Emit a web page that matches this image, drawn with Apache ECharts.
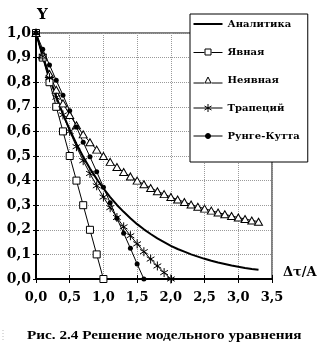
<!DOCTYPE html>
<html><head><meta charset="utf-8">
<script src="https://cdn.jsdelivr.net/npm/echarts@6/dist/echarts.min.js"></script>
<style>html,body{margin:0;padding:0;background:#fff}#c{width:329px;height:358px}</style>
</head><body><div id="c"></div>
<script>
// ---- data ----
const analyticX = [0,0.1,0.2,0.3,0.4,0.5,0.6,0.7,0.8,0.9,1.0,1.1,1.2,1.3,1.4,1.5,1.6,1.7,1.8,1.9,2.0,2.1,2.2,2.3,2.4,2.5,2.6,2.7,2.8,2.9,3.0,3.1,3.2,3.3];
const analyticY = [1.000,0.905,0.819,0.741,0.670,0.607,0.549,0.497,0.449,0.407,0.368,0.333,0.301,0.273,0.247,0.223,0.202,0.183,0.165,0.150,0.135,0.122,0.111,0.100,0.091,0.082,0.074,0.067,0.061,0.055,0.050,0.045,0.041,0.038];
const explicitX = [0,0.1,0.2,0.3,0.4,0.5,0.6,0.7,0.8,0.9,1.0];
const explicitY = [1.0,0.9,0.8,0.7,0.6,0.5,0.4,0.3,0.2,0.1,0.0];
const implicitX = [0,0.1,0.2,0.3,0.4,0.5,0.6,0.7,0.8,0.9,1.0,1.1,1.2,1.3,1.4,1.5,1.6,1.7,1.8,1.9,2.0,2.1,2.2,2.3,2.4,2.5,2.6,2.7,2.8,2.9,3.0,3.1,3.2,3.3];
const implicitY = [1.000,0.909,0.833,0.769,0.714,0.667,0.625,0.588,0.556,0.526,0.500,0.476,0.455,0.435,0.417,0.400,0.385,0.370,0.357,0.345,0.333,0.323,0.313,0.303,0.294,0.286,0.278,0.270,0.263,0.256,0.250,0.244,0.238,0.233];
const trapX = [0,0.1,0.2,0.3,0.4,0.5,0.6,0.7,0.8,0.9,1.0,1.1,1.2,1.3,1.4,1.5,1.6,1.7,1.8,1.9,2.0];
const trapY = [1.000,0.905,0.818,0.739,0.667,0.600,0.538,0.481,0.429,0.379,0.333,0.290,0.250,0.212,0.176,0.143,0.111,0.081,0.053,0.026,0.000];
const rkX = [0,0.1,0.2,0.3,0.4,0.5,0.6,0.7,0.8,0.9,1.0,1.1,1.2,1.3,1.4,1.5,1.6];
const rkY = [1.000,0.934,0.870,0.808,0.747,0.684,0.618,0.556,0.497,0.436,0.373,0.310,0.247,0.186,0.125,0.061,0.000];
const seriesNames = ['Аналитика','Явная','Неявная','Трапеций','Рунге-Кутта'];
const xTicks = {min:0, max:3.5, step:0.5};
const yTicks = {min:0, max:1.0, step:0.1};
const captionText = 'Рис. 2.4 Решение модельного уравнения';

const pairs = (xs, ys) => xs.map((x, i) => [x, ys[i]]);
const fmt = v => v.toFixed(1).replace('.', ',');
const F = 'DejaVu Serif';
const T = 'Liberation Serif';
const ast = 'path://M5,0L5,10M0.7,2.5L9.3,7.5M0.7,7.5L9.3,2.5';

// legend icons (line + marker), drawn in pixel units
const icons = [
  'path://M0,0H29V2H0Z',
  'path://M0,4L11,4M18,4L29,4M11.5,0.5H17.5V6.5H11.5Z',
  'path://M0,6.5L11,6.5M18,6.5L29,6.5M14.5,0.5L17.5,6.5H11.5Z',
  'path://M0,4L29,4M14.5,0L14.5,8M11,2L18,6M11,6L18,2',
  'path://M0,2.5L29,2.5M12,2.5A2.5,2.5 0 1 0 17,2.5A2.5,2.5 0 1 0 12,2.5Z'
];
const iconStyles = [
  {color:'#000', borderColor:'#000', borderWidth:0},
  {color:'#fff', borderColor:'#000', borderWidth:1},
  {color:'#fff', borderColor:'#000', borderWidth:1},
  {color:'#000', borderColor:'#000', borderWidth:1},
  {color:'#000', borderColor:'#000', borderWidth:1}
];

const chart = echarts.init(document.getElementById('c'), null, {renderer:'canvas'});
const xBase = {type:'value', min:xTicks.min, max:xTicks.max, interval:xTicks.step};
const yBase = {type:'value', min:yTicks.min, max:yTicks.max, interval:yTicks.step};
chart.setOption({
  animation:false,
  backgroundColor:'#fff',
  grid:{left:36, right:57, top:33, bottom:79, show:true, borderColor:'#000', borderWidth:1, containLabel:false},
  xAxis:[
    Object.assign({}, xBase, {
      axisLine:{lineStyle:{color:'#000', width:2}},
      axisTick:{show:true, length:4, lineStyle:{color:'#000', width:1}},
      axisLabel:{formatter:fmt, color:'#000', fontFamily:F, fontWeight:'bold', fontSize:13, margin:12},
      splitLine:{show:true, lineStyle:{color:'#9a9a9a', type:'dotted', width:1}}
    }),
    Object.assign({}, xBase, {
      position:'bottom', axisLine:{show:false}, axisLabel:{show:false}, splitLine:{show:false},
      axisTick:{show:true, inside:true, length:4, lineStyle:{color:'#000', width:1}}
    })
  ],
  yAxis:[
    Object.assign({}, yBase, {
      axisLine:{lineStyle:{color:'#000', width:2}},
      axisTick:{show:true, length:3, lineStyle:{color:'#000', width:1}},
      axisLabel:{formatter:fmt, color:'#000', fontFamily:F, fontWeight:'bold', fontSize:14, margin:5},
      splitLine:{show:true, lineStyle:{color:'#9a9a9a', type:'dotted', width:1}}
    }),
    Object.assign({}, yBase, {
      position:'left', axisLine:{show:false}, axisLabel:{show:false}, splitLine:{show:false},
      axisTick:{show:true, inside:true, length:3, lineStyle:{color:'#000', width:1}}
    })
  ],
  legend:{
    orient:'vertical', left:190, top:14,
    data:seriesNames.map((n, i) => ({name:n, icon:icons[i], itemStyle:iconStyles[i]})),
    itemWidth:29, itemHeight:14, itemGap:18, symbolKeepAspect:true,
    padding:[5,8,21,3],
    backgroundColor:'#fff', borderColor:'#000', borderWidth:1,
    textStyle:{color:'#000', fontFamily:F, fontWeight:'bold', fontSize:10},
    inactiveColor:'#000'
  },
  series:[
    {name:seriesNames[0], type:'line', data:pairs(analyticX, analyticY), symbol:'none', z:3,
     lineStyle:{color:'#000', width:2}, itemStyle:{color:'#000'}},
    {name:seriesNames[1], type:'line', data:pairs(explicitX, explicitY), symbol:'rect', symbolSize:7,
     lineStyle:{color:'#000', width:1}, itemStyle:{color:'#fff', borderColor:'#000', borderWidth:1}},
    {name:seriesNames[2], type:'line', data:pairs(implicitX, implicitY), symbol:'triangle', symbolSize:[8,7],
     lineStyle:{color:'#000', width:1}, itemStyle:{color:'#fff', borderColor:'#000', borderWidth:1}},
    {name:seriesNames[3], type:'line', data:pairs(trapX, trapY), symbol:ast, symbolSize:9, symbolKeepAspect:true,
     lineStyle:{color:'#000', width:1}, itemStyle:{color:'#000', borderColor:'#000', borderWidth:1}},
    {name:seriesNames[4], type:'line', data:pairs(rkX, rkY), symbol:'circle', symbolSize:5,
     lineStyle:{color:'#000', width:1}, itemStyle:{color:'#000', borderColor:'#000', borderWidth:0}}
  ],
  graphic:[
    {type:'text', left:37, top:8, style:{text:'Y', fill:'#000', font:'bold 15px "'+F+'"'}},
    {type:'text', left:283, top:266, style:{text:'Δτ/A', fill:'#000', font:'bold 13px "'+F+'"'}},
    {type:'text', left:27, top:329, style:{text:captionText, fill:'#000', font:'bold 13px "'+T+'"'}, scaleX:1.17},
    {type:'line', shape:{x1:3, y1:330, x2:3, y2:342}, style:{stroke:'#bbb', lineWidth:1, lineDash:[1,2]}}
  ]
});
</script>
</body></html>
